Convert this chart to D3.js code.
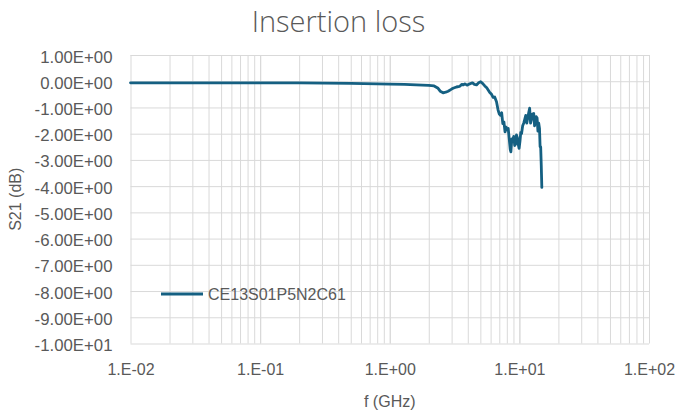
<!DOCTYPE html>
<html><head><meta charset="utf-8">
<script src="https://cdn.jsdelivr.net/npm/d3@7"></script>
<style>
body{margin:0;background:#fff;}
svg{display:block;}
text{font-family:"Liberation Sans",Arial,sans-serif;fill:#595959;}
</style></head>
<body>
<script>
const title = "Insertion loss";
const xTitle = "f (GHz)";
const yTitle = "S21 (dB)";
const seriesName = "CE13S01P5N2C61";
const xTickValues = [0.01, 0.1, 1, 10, 100];
const yTickValues = [1, 0, -1, -2, -3, -4, -5, -6, -7, -8, -9, -10];
const freq = [0.01, 0.02, 0.05, 0.1, 0.2, 0.5, 0.8, 1.0, 1.3, 1.6, 2.0, 2.2, 2.36, 2.45, 2.58, 2.7, 2.82, 3.0, 3.08, 3.27, 3.45, 3.6, 3.7, 3.8, 3.95, 4.1, 4.35, 4.5, 4.67, 4.85, 5.03, 5.2, 5.41, 5.6, 5.91, 6.1, 6.27, 6.45, 6.66, 6.85, 7.0, 7.15, 7.3, 7.45, 7.6, 7.75, 7.9, 8.05, 8.2, 8.35, 8.5, 8.6, 8.75, 8.9, 9.05, 9.2, 9.35, 9.5, 9.65, 9.8, 9.95, 10.1, 10.25, 10.4, 10.6, 10.8, 11.0, 11.2, 11.4, 11.6, 11.8, 12.0, 12.2, 12.4, 12.6, 12.9, 13.1, 13.3, 13.5, 13.7, 13.9, 14.1, 14.3, 14.45, 14.6, 14.75, 14.9];
const s21 = [-0.06, -0.06, -0.06, -0.06, -0.06, -0.08, -0.10, -0.11, -0.12, -0.14, -0.16, -0.18, -0.27, -0.38, -0.44, -0.42, -0.38, -0.30, -0.27, -0.22, -0.20, -0.12, -0.14, -0.10, -0.15, -0.11, -0.06, -0.12, -0.14, -0.06, -0.02, -0.08, -0.18, -0.25, -0.43, -0.50, -0.62, -0.60, -0.78, -1.10, -1.25, -1.30, -1.20, -1.62, -1.55, -1.93, -1.75, -1.85, -1.80, -2.20, -2.60, -2.69, -2.20, -2.30, -2.10, -2.45, -2.40, -2.05, -2.15, -2.40, -2.56, -2.30, -1.95, -2.00, -1.70, -1.60, -1.45, -1.30, -1.60, -1.40, -1.20, -1.03, -1.60, -1.45, -1.25, -1.23, -1.70, -1.55, -1.35, -1.40, -1.90, -1.60, -1.80, -2.50, -2.50, -3.20, -4.05];

const W = 677, H = 413;
const m = {left: 130.5, right: W - 649, top: 55, bottom: H - 343.5};
const svg = d3.select("body").append("svg").attr("width", W).attr("height", H);

const x = d3.scaleLog().domain([0.01, 100]).range([m.left, W - m.right]);
const y = d3.scaleLinear().domain([-10, 1]).range([H - m.bottom, m.top]);

function fmtY(v) {
  if (v === 0) return "0.00E+00";
  const e = Math.floor(Math.log10(Math.abs(v)));
  const mant = v / Math.pow(10, e);
  const es = (e < 0 ? "-" : "+") + String(Math.abs(e)).padStart(2, "0");
  return mant.toFixed(2) + "E" + es;
}
function fmtX(v) {
  const e = Math.round(Math.log10(v));
  return "1.E" + (e < 0 ? "-" : "+") + String(Math.abs(e)).padStart(2, "0");
}

// grid: vertical (major + minor)
const minor = [];
for (let d = -2; d < 2; d++) for (let k = 1; k <= 10; k++) minor.push(k * Math.pow(10, d));
const xGrid = svg.append("g").attr("transform", `translate(0,${H - m.bottom})`)
  .call(d3.axisBottom(x).tickValues(minor).tickSize(-(H - m.top - m.bottom)).tickFormat(""));
xGrid.selectAll("line").attr("stroke", "#d9d9d9").attr("stroke-width", 1);
xGrid.select(".domain").remove();

const yGrid = svg.append("g").attr("transform", `translate(${m.left},0)`)
  .call(d3.axisLeft(y).tickValues(yTickValues).tickSize(-(W - m.left - m.right)).tickFormat(""));
yGrid.selectAll("line").attr("stroke", "#d9d9d9").attr("stroke-width", 1);
yGrid.select(".domain").remove();

// axis labels
const xAxis = svg.append("g").attr("transform", `translate(0,${H - m.bottom})`)
  .call(d3.axisBottom(x).tickValues(xTickValues).tickSize(0).tickPadding(20).tickFormat(fmtX));
xAxis.select(".domain").remove();
xAxis.selectAll("text").style("font-size", "16px").attr("fill", "#595959")
  .attr("font-family", "Liberation Sans, Arial, sans-serif");

const yAxis = svg.append("g").attr("transform", `translate(${m.left},0)`)
  .call(d3.axisLeft(y).tickValues(yTickValues).tickSize(0).tickPadding(18).tickFormat(fmtY));
yAxis.select(".domain").remove();
yAxis.selectAll("text").style("font-size", "16.8px").attr("fill", "#595959")
  .attr("font-family", "Liberation Sans, Arial, sans-serif").attr("dy", "0.42em");

// line
const data = freq.map((f, i) => ({f, v: s21[i]}));
svg.append("path").datum(data)
  .attr("fill", "none").attr("stroke", "#156082").attr("stroke-width", 2.8)
  .attr("stroke-linejoin", "round").attr("stroke-linecap", "round")
  .attr("d", d3.line().x(d => x(d.f)).y(d => y(d.v)));

// title
svg.append("text").attr("x", W / 2).attr("y", 32).attr("text-anchor", "middle")
  .style("font-size", "29px").style("font-family", "'Open Sans', sans-serif").style("font-weight", "300")
  .text(title);

svg.append("text").attr("x", (m.left + W - m.right) / 2).attr("y", 407).attr("text-anchor", "middle")
  .style("font-size", "16px").text(xTitle);

svg.append("text").attr("transform", `translate(21,${(m.top + H - m.bottom) / 2}) rotate(-90)`)
  .attr("text-anchor", "middle").style("font-size", "16px").text(yTitle);

// legend
svg.append("line").attr("x1", 161).attr("x2", 203).attr("y1", 294).attr("y2", 294)
  .attr("stroke", "#156082").attr("stroke-width", 2.8);
svg.append("text").attr("x", 208).attr("y", 294).attr("dy", "0.36em")
  .style("font-size", "16px").text(seriesName);
</script>
</body></html>
